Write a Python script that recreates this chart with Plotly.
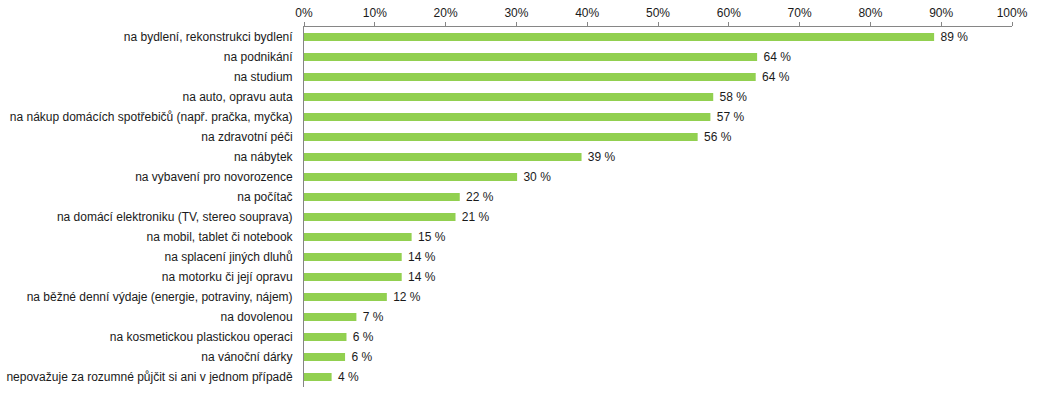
import plotly.graph_objects as go

categories = [
    "na bydlení, rekonstrukci bydlení",
    "na podnikání",
    "na studium",
    "na auto, opravu auta",
    "na nákup domácích spotřebičů (např. pračka, myčka)",
    "na zdravotní péči",
    "na nábytek",
    "na vybavení pro novorozence",
    "na počítač",
    "na domácí elektroniku (TV, stereo souprava)",
    "na mobil, tablet či notebook",
    "na splacení jiných dluhů",
    "na motorku či její opravu",
    "na běžné denní výdaje (energie, potraviny, nájem)",
    "na dovolenou",
    "na kosmetickou plastickou operaci",
    "na vánoční dárky",
    "nepovažuje za rozumné půjčit si ani v jednom případě",
]
values = [89.0, 64.0, 63.8, 57.8, 57.4, 55.6, 39.2, 30.1, 22.0, 21.4,
          15.2, 13.8, 13.8, 11.7, 7.4, 6.0, 5.8, 3.9]
value_labels = ["89 %", "64 %", "64 %", "58 %", "57 %", "56 %", "39 %", "30 %",
                "22 %", "21 %", "15 %", "14 %", "14 %", "12 %", "7 %", "6 %", "6 %", "4 %"]
tick_vals = [0, 10, 20, 30, 40, 50, 60, 70, 80, 90, 100]
tick_text = ["0%", "10%", "20%", "30%", "40%", "50%", "60%", "70%", "80%", "90%", "100%"]

font_family = "Liberation Sans, Arial, sans-serif"
fsize = 12

fig = go.Figure(go.Bar(
    x=values,
    y=categories,
    orientation="h",
    marker=dict(color="#92D050", line=dict(width=0)),
    width=0.4,
    text=value_labels,
    texttemplate="\u00a0%{text}",
    textposition="outside",
    constraintext="none",
    textfont=dict(family=font_family, size=fsize, color="#1a1a1a"),
    cliponaxis=False,
    hoverinfo="skip",
))

fig.update_layout(
    width=1043,
    height=396,
    margin=dict(l=303.5, r=31.3, t=27, b=9, autoexpand=False),
    paper_bgcolor="white",
    plot_bgcolor="white",
    showlegend=False,
    font=dict(family=font_family, size=fsize, color="#1a1a1a"),
)
fig.update_xaxes(
    side="top",
    range=[0, 100],
    tickvals=tick_vals,
    ticktext=tick_text,
    showgrid=False,
    zeroline=False,
    showline=True,
    linecolor="#868686",
    linewidth=1,
    ticks="outside",
    ticklen=4,
    tickcolor="#868686",
    automargin=False,
    tickfont=dict(family=font_family, size=fsize, color="#1a1a1a"),
)
fig.update_yaxes(
    autorange="reversed",
    showgrid=False,
    zeroline=False,
    showline=True,
    linecolor="#868686",
    linewidth=1,
    ticks="",
    ticklabelstandoff=8,
    automargin=False,
    tickfont=dict(family=font_family, size=fsize, color="#1a1a1a"),
)

fig.write_html(
    "out.html",
    config={"displayModeBar": False},
    post_script="document.body.style.margin='0';document.body.style.padding='0';",
)
